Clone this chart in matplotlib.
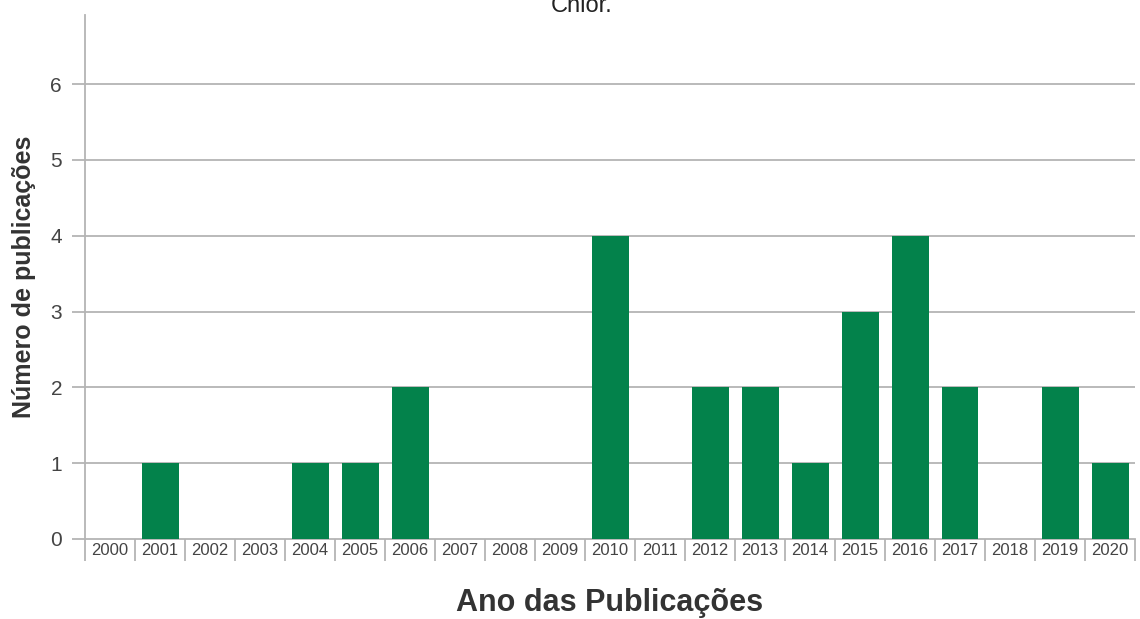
import matplotlib.pyplot as plt
import numpy as np

plt.rcParams['font.family'] = ['Liberation Sans', 'DejaVu Sans']

anos = [str(a) for a in range(2000, 2021)]
publicacoes = [0, 1, 0, 0, 1, 1, 2, 0, 0, 0, 4, 0, 2, 2, 1, 3, 4, 2, 0, 2, 1]
yticks = [0, 1, 2, 3, 4, 5, 6]

verde = '#03824b'
cinza = '#b4b4b4'

fig = plt.figure(figsize=(11.4, 6.19), dpi=100)
ax = fig.add_axes([85 / 1140, 80 / 619, 1050 / 1140, 524 / 619])

x = np.arange(len(anos))
ax.bar(x, publicacoes, width=0.74, color=verde, zorder=3)

ax.set_xlim(-0.5, len(anos) - 0.5)
ax.set_ylim(0, 6.91)

ax.set_yticks(yticks)
ax.set_yticklabels([str(v) for v in yticks], fontsize=15, color='#444444')
ax.tick_params(axis='y', length=9.5, width=1.3, color=cinza, pad=7)
for v in yticks[1:]:
    ax.axhline(v, color=cinza, lw=1.3, zorder=1)

ax.set_xticks(x)
ax.set_xticklabels(anos, fontsize=12, color='#444444')
ax.tick_params(axis='x', which='major', length=0, pad=3)
ax.set_xticks(np.arange(-0.5, len(anos)), minor=True)
ax.tick_params(axis='x', which='minor', length=16, width=1.3, color=cinza)

for s in ['top', 'right']:
    ax.spines[s].set_visible(False)
for s in ['left', 'bottom']:
    ax.spines[s].set_color(cinza)
    ax.spines[s].set_linewidth(1.3)

ax.set_ylabel('Número de publicações', fontsize=18, fontweight='bold', color='#333333', labelpad=10)
ax.set_xlabel('Ano das Publicações', fontsize=22, fontweight='bold', color='#333333', labelpad=16)

fig.text(582 / 1140, 1 - 12 / 619, 'Chlor.', fontsize=17, ha='center', va='baseline', color='#222222')

fig.savefig('out.png', dpi=100, facecolor='white')
